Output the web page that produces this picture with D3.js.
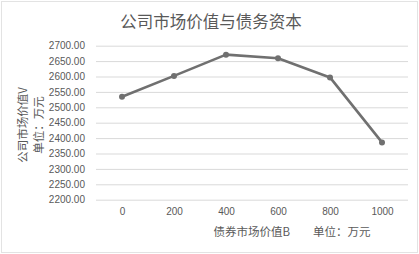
<!DOCTYPE html>
<html>
<head>
<meta charset="utf-8">
<script src="https://cdn.jsdelivr.net/npm/d3@7"></script>
<style>
body{margin:0;background:#fff;}
svg{display:block;}
.grid line{stroke:#d9d9d9;stroke-width:1;}
.grid path{stroke:none;}
.axis text{fill:#595959;font-family:"Liberation Sans","DejaVu Sans",sans-serif;font-size:10px;}
.axis path,.axis line{stroke:none;}
</style>
</head>
<body>
<div id="chart"></div>
<script>
var categories = ["0","200","400","600","800","1000"];
var values = [2534, 2602, 2671, 2659, 2597, 2386];
var yTicks = [2200,2250,2300,2350,2400,2450,2500,2550,2600,2650,2700];
var title = "公司市场价值与债务资本";
var yTitle = ["公司市场价值V","单位：万元"];
var xTitle = "债券市场价值B　　单位：万元";

var svg_width = 419, svg_height = 254;
var margin = {top:45.7, left:96, right:11, bottom:54.3};
var inner_width = svg_width - margin.left - margin.right;
var inner_height = svg_height - margin.top - margin.bottom;

var svg = d3.select("#chart").append("svg")
	.attr("width",svg_width)
	.attr("height",svg_height);

// 外框
svg.append("rect")
	.attr("x",1.5).attr("y",1.5)
	.attr("width",svg_width-3).attr("height",svg_height-3)
	.attr("fill","#fff")
	.attr("stroke","#e3e3e3");

var g = svg.append("g")
	.attr("transform","translate(" + margin.left + "," + margin.top + ")");

var xScale = d3.scalePoint()
	.domain(categories)
	.range([0,inner_width])
	.padding(0.5);

var yScale = d3.scaleLinear()
	.domain([2200,2700])
	.range([inner_height,0]);

g.append("g")
	.attr("class","grid")
	.call(d3.axisLeft(yScale).tickValues(yTicks).tickSize(-inner_width).tickFormat(""));

g.append("g")
	.attr("class","y axis")
	.call(d3.axisLeft(yScale).tickValues(yTicks).tickSize(0).tickPadding(11).tickFormat(d3.format(".2f")));

g.append("g")
	.attr("class","x axis")
	.attr("transform","translate(0," + inner_height + ")")
	.call(d3.axisBottom(xScale).tickSize(0).tickPadding(8));

var line = d3.line()
	.x(function(d,i){return xScale(categories[i]);})
	.y(function(d){return yScale(d);});

g.append("path")
	.attr("d",line(values))
	.attr("fill","none")
	.attr("stroke","#707070")
	.attr("stroke-width",2.6)
	.attr("stroke-linejoin","round");

g.selectAll("circle.pt")
	.data(values)
	.enter().append("circle")
	.attr("class","pt")
	.attr("r",3)
	.attr("cx",function(d,i){return xScale(categories[i]);})
	.attr("cy",function(d){return yScale(d);})
	.attr("fill","#707070");

svg.append("text")
	.attr("x",211).attr("y",28)
	.attr("text-anchor","middle")
	.attr("fill","#595959")
	.style("font-family","'Noto Sans CJK SC',sans-serif")
	.style("font-size","16.5px")
	.text(title);

var yt = svg.append("text")
	.attr("transform","translate(27,125) rotate(-90)")
	.attr("text-anchor","middle")
	.attr("fill","#595959")
	.style("font-family","'Noto Sans CJK SC',sans-serif")
	.style("font-size","11.5px");
yt.selectAll("tspan")
	.data(yTitle)
	.enter().append("tspan")
	.attr("x",0)
	.attr("dy",function(d,i){return i==0 ? 0 : 15.5;})
	.text(function(d){return d;});

svg.append("text")
	.attr("x",292).attr("y",236)
	.attr("text-anchor","middle")
	.attr("fill","#595959")
	.style("font-family","'Noto Sans CJK SC',sans-serif")
	.style("font-size","11.5px")
	.text(xTitle);
</script>
</body>
</html>
